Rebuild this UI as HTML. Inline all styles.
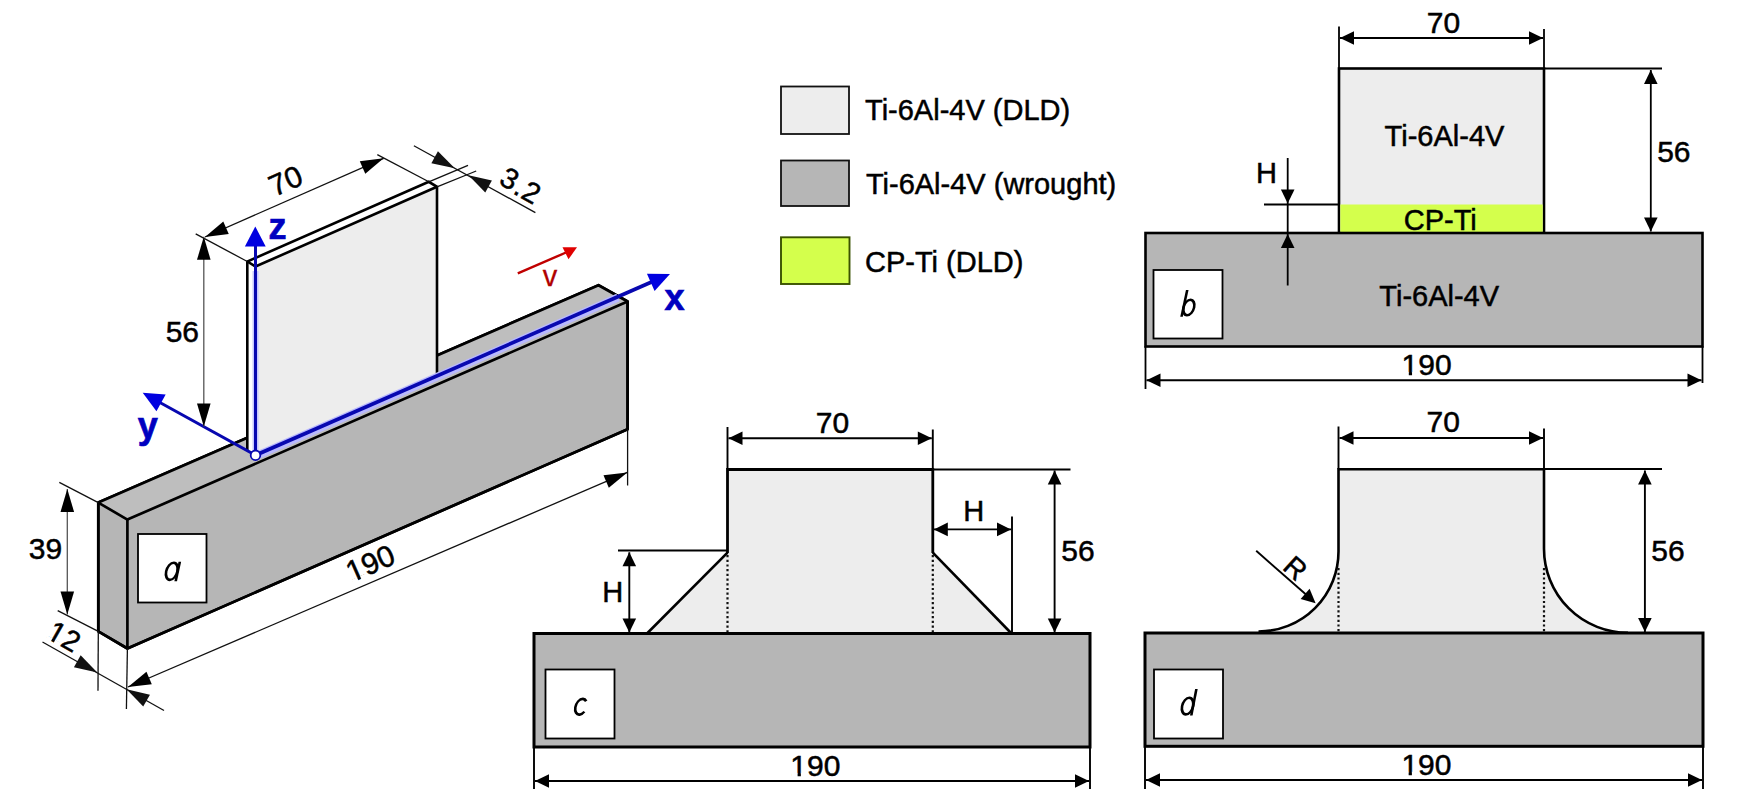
<!DOCTYPE html>
<html><head><meta charset="utf-8"><style>html,body{margin:0;padding:0;background:#fff;}svg{display:block;}</style></head>
<body><svg width="1741" height="794" viewBox="0 0 1741 794">
<rect width="1741" height="794" fill="#fff"/>
<rect x="1339" y="68.5" width="205" height="164.5" fill="#ededed" stroke="#000" stroke-width="2.6"/>
<rect x="1340.3" y="204.5" width="202.4" height="28.5" fill="#d4ff4c"/>
<rect x="1145.5" y="233" width="557.0" height="113.5" fill="#b6b6b6" stroke="#000" stroke-width="2.6"/>
<line x1="1339.00" y1="26.50" x2="1339.00" y2="68.50" stroke="#000" stroke-width="1.8" />
<line x1="1544.00" y1="29.00" x2="1544.00" y2="68.50" stroke="#000" stroke-width="1.8" />
<line x1="1340.00" y1="38.00" x2="1543.00" y2="38.00" stroke="#000" stroke-width="1.8" /><path d="M1340.00,38.00 L1354.00,31.20 L1354.00,44.80 Z" fill="#000"/><path d="M1543.00,38.00 L1529.00,44.80 L1529.00,31.20 Z" fill="#000"/>
<g transform="translate(1443.85,22.50)"><text x="-17.00" y="10.00" font-family="Liberation Sans, sans-serif" font-size="30" font-weight="normal" font-style="normal" fill="#000" stroke="#000" stroke-width="0.5">70</text></g>
<line x1="1544.00" y1="68.50" x2="1662.00" y2="68.50" stroke="#000" stroke-width="1.8" />
<line x1="1650.80" y1="70.00" x2="1650.80" y2="231.50" stroke="#000" stroke-width="1.8" /><path d="M1650.80,70.00 L1657.60,84.00 L1644.00,84.00 Z" fill="#000"/><path d="M1650.80,231.50 L1644.00,217.50 L1657.60,217.50 Z" fill="#000"/>
<g transform="translate(1673.65,152.15)"><text x="-16.50" y="10.00" font-family="Liberation Sans, sans-serif" font-size="30" font-weight="normal" font-style="normal" fill="#000" stroke="#000" stroke-width="0.5">56</text></g>
<line x1="1264.00" y1="204.50" x2="1339.00" y2="204.50" stroke="#000" stroke-width="1.8" />
<line x1="1287.70" y1="158.00" x2="1287.70" y2="285.50" stroke="#000" stroke-width="1.8" />
<path d="M1287.70,203.50 L1280.90,189.50 L1294.50,189.50 Z" fill="#000"/>
<path d="M1287.70,234.00 L1294.50,248.00 L1280.90,248.00 Z" fill="#000"/>
<g transform="translate(1266.45,173.45)"><text x="-10.50" y="10.00" font-family="Liberation Sans, sans-serif" font-size="29" font-weight="normal" font-style="normal" fill="#000" stroke="#000" stroke-width="0.5">H</text></g>
<line x1="1145.50" y1="346.00" x2="1145.50" y2="389.00" stroke="#000" stroke-width="1.8" />
<line x1="1702.50" y1="346.00" x2="1702.50" y2="383.00" stroke="#000" stroke-width="1.8" />
<line x1="1146.50" y1="380.30" x2="1701.50" y2="380.30" stroke="#000" stroke-width="1.9" /><path d="M1146.50,380.30 L1160.50,373.50 L1160.50,387.10 Z" fill="#000"/><path d="M1701.50,380.30 L1687.50,387.10 L1687.50,373.50 Z" fill="#000"/>
<g transform="translate(1427.05,364.70)"><text x="-25.50" y="10.00" font-family="Liberation Sans, sans-serif" font-size="30" font-weight="normal" font-style="normal" fill="#000" stroke="#000" stroke-width="0.5">190</text><rect x="-24.41" y="7.21" width="6.16" height="4.19" fill="#fff"/><rect x="-15.00" y="7.21" width="6.22" height="4.19" fill="#fff"/></g>
<g transform="translate(1444.60,135.10)"><text x="-60.00" y="11.00" font-family="Liberation Sans, sans-serif" font-size="29" font-weight="normal" font-style="normal" fill="#000" stroke="#000" stroke-width="0.5">Ti-6Al-4V</text></g>
<g transform="translate(1439.70,218.65)"><text x="-36.00" y="11.00" font-family="Liberation Sans, sans-serif" font-size="29" font-weight="normal" font-style="normal" fill="#000" stroke="#000" stroke-width="0.5">CP-Ti</text></g>
<g transform="translate(1439.30,294.80)"><text x="-60.00" y="11.00" font-family="Liberation Sans, sans-serif" font-size="29" font-weight="normal" font-style="normal" fill="#000" stroke="#000" stroke-width="0.5">Ti-6Al-4V</text></g>
<rect x="1153.5" y="270" width="69" height="68.5" fill="#fff" stroke="#000" stroke-width="1.8"/>
<g transform="translate(1188.8,307.5) skewX(-12)" fill="none" stroke="#000" stroke-width="2.6" stroke-linecap="butt"><ellipse cx="0" cy="0" rx="5.3" ry="7.7"/><line x1="-5.3" y1="-17.6" x2="-5.3" y2="9.2"/></g>
<path d="M727.5,552.7 L647,633.5 L727.5,633.5 Z" fill="#ededed"/>
<path d="M932.8,552.7 L1011.5,633.5 L932.8,633.5 Z" fill="#ededed"/>
<rect x="727.5" y="469.5" width="205.29999999999995" height="164.0" fill="#ededed"/>
<path d="M727.5,553 L727.5,469.5 L932.8,469.5 L932.8,553" fill="none" stroke="#000" stroke-width="2.8"/>
<line x1="727.50" y1="552.70" x2="647.00" y2="633.50" stroke="#000" stroke-width="2.6" />
<line x1="932.80" y1="552.70" x2="1011.50" y2="633.50" stroke="#000" stroke-width="2.6" />
<line x1="727.50" y1="555.00" x2="727.50" y2="632.50" stroke="#111" stroke-width="2.2" stroke-dasharray="2.2,2.5"/>
<line x1="932.80" y1="555.00" x2="932.80" y2="632.50" stroke="#111" stroke-width="2.2" stroke-dasharray="2.2,2.5"/>
<rect x="534" y="633.5" width="556" height="113.5" fill="#b6b6b6" stroke="#000" stroke-width="3"/>
<line x1="727.50" y1="427.00" x2="727.50" y2="469.50" stroke="#000" stroke-width="1.9" />
<line x1="932.80" y1="429.50" x2="932.80" y2="469.50" stroke="#000" stroke-width="1.9" />
<line x1="728.50" y1="438.30" x2="931.80" y2="438.30" stroke="#000" stroke-width="1.9" /><path d="M728.50,438.30 L742.50,431.50 L742.50,445.10 Z" fill="#000"/><path d="M931.80,438.30 L917.80,445.10 L917.80,431.50 Z" fill="#000"/>
<g transform="translate(832.75,423.00)"><text x="-17.00" y="10.00" font-family="Liberation Sans, sans-serif" font-size="30" font-weight="normal" font-style="normal" fill="#000" stroke="#000" stroke-width="0.5">70</text></g>
<line x1="932.80" y1="469.50" x2="1070.50" y2="469.50" stroke="#000" stroke-width="1.9" />
<line x1="1054.60" y1="470.50" x2="1054.60" y2="632.50" stroke="#000" stroke-width="1.9" /><path d="M1054.60,470.50 L1061.40,484.50 L1047.80,484.50 Z" fill="#000"/><path d="M1054.60,632.50 L1047.80,618.50 L1061.40,618.50 Z" fill="#000"/>
<g transform="translate(1077.80,550.80)"><text x="-16.50" y="10.00" font-family="Liberation Sans, sans-serif" font-size="30" font-weight="normal" font-style="normal" fill="#000" stroke="#000" stroke-width="0.5">56</text></g>
<line x1="618.00" y1="550.50" x2="727.50" y2="550.50" stroke="#000" stroke-width="1.9" />
<line x1="629.30" y1="552.30" x2="629.30" y2="632.50" stroke="#000" stroke-width="1.9" /><path d="M629.30,552.30 L636.10,566.30 L622.50,566.30 Z" fill="#000"/><path d="M629.30,632.50 L622.50,618.50 L636.10,618.50 Z" fill="#000"/>
<g transform="translate(612.85,592.45)"><text x="-10.50" y="10.00" font-family="Liberation Sans, sans-serif" font-size="29" font-weight="normal" font-style="normal" fill="#000" stroke="#000" stroke-width="0.5">H</text></g>
<line x1="1012.00" y1="516.50" x2="1012.00" y2="633.50" stroke="#000" stroke-width="1.9" />
<line x1="933.80" y1="529.40" x2="1011.00" y2="529.40" stroke="#000" stroke-width="1.9" /><path d="M933.80,529.40 L947.80,522.60 L947.80,536.20 Z" fill="#000"/><path d="M1011.00,529.40 L997.00,536.20 L997.00,522.60 Z" fill="#000"/>
<g transform="translate(973.75,511.35)"><text x="-10.50" y="10.00" font-family="Liberation Sans, sans-serif" font-size="29" font-weight="normal" font-style="normal" fill="#000" stroke="#000" stroke-width="0.5">H</text></g>
<line x1="534.00" y1="747.00" x2="534.00" y2="789.00" stroke="#000" stroke-width="1.9" />
<line x1="1090.00" y1="747.00" x2="1090.00" y2="789.00" stroke="#000" stroke-width="1.9" />
<line x1="535.00" y1="781.00" x2="1089.00" y2="781.00" stroke="#000" stroke-width="2" /><path d="M535.00,781.00 L549.00,774.20 L549.00,787.80 Z" fill="#000"/><path d="M1089.00,781.00 L1075.00,787.80 L1075.00,774.20 Z" fill="#000"/>
<g transform="translate(815.85,765.70)"><text x="-25.50" y="10.00" font-family="Liberation Sans, sans-serif" font-size="30" font-weight="normal" font-style="normal" fill="#000" stroke="#000" stroke-width="0.5">190</text><rect x="-24.41" y="7.21" width="6.16" height="4.19" fill="#fff"/><rect x="-15.00" y="7.21" width="6.22" height="4.19" fill="#fff"/></g>
<rect x="545.5" y="669.5" width="69" height="69" fill="#fff" stroke="#000" stroke-width="1.8"/>
<g transform="translate(581,706.8) skewX(-12)" fill="none" stroke="#000" stroke-width="2.6" stroke-linecap="butt"><path d="M4.0,-5.6 A5.6,7.9 0 1 0 4.4,4.9"/></g>
<path d="M1338.5,551.5 A80,80 0 0 1 1258.5,631.5 L1258.5,633 L1338.5,633 Z" fill="#ededed"/>
<path d="M1544,548.8 A84,84 0 0 0 1628,632.8 L1628,633 L1544,633 Z" fill="#ededed"/>
<rect x="1338.5" y="469.3" width="205.5" height="163.7" fill="#ededed"/>
<path d="M1258.5,631.5 A80,80 0 0 0 1338.5,551.5 L1338.5,469.3 L1544,469.3 L1544,548.8 A84,84 0 0 0 1628,632.8" fill="none" stroke="#000" stroke-width="2.6"/>
<line x1="1338.50" y1="568.00" x2="1338.50" y2="632.00" stroke="#111" stroke-width="2.2" stroke-dasharray="2.2,2.5"/>
<line x1="1544.00" y1="568.00" x2="1544.00" y2="632.00" stroke="#111" stroke-width="2.2" stroke-dasharray="2.2,2.5"/>
<rect x="1145" y="633" width="558" height="113.29999999999995" fill="#b6b6b6" stroke="#000" stroke-width="3"/>
<line x1="1338.50" y1="426.50" x2="1338.50" y2="469.30" stroke="#000" stroke-width="1.9" />
<line x1="1544.00" y1="428.50" x2="1544.00" y2="469.30" stroke="#000" stroke-width="1.9" />
<line x1="1339.50" y1="438.00" x2="1543.00" y2="438.00" stroke="#000" stroke-width="1.9" /><path d="M1339.50,438.00 L1353.50,431.20 L1353.50,444.80 Z" fill="#000"/><path d="M1543.00,438.00 L1529.00,444.80 L1529.00,431.20 Z" fill="#000"/>
<g transform="translate(1443.55,422.15)"><text x="-17.00" y="10.00" font-family="Liberation Sans, sans-serif" font-size="30" font-weight="normal" font-style="normal" fill="#000" stroke="#000" stroke-width="0.5">70</text></g>
<line x1="1544.00" y1="469.00" x2="1662.00" y2="469.00" stroke="#000" stroke-width="1.9" />
<line x1="1644.90" y1="470.50" x2="1644.90" y2="632.00" stroke="#000" stroke-width="1.9" /><path d="M1644.90,470.50 L1651.70,484.50 L1638.10,484.50 Z" fill="#000"/><path d="M1644.90,632.00 L1638.10,618.00 L1651.70,618.00 Z" fill="#000"/>
<g transform="translate(1667.80,550.80)"><text x="-16.50" y="10.00" font-family="Liberation Sans, sans-serif" font-size="30" font-weight="normal" font-style="normal" fill="#000" stroke="#000" stroke-width="0.5">56</text></g>
<line x1="1256.20" y1="550.80" x2="1306.00" y2="594.50" stroke="#000" stroke-width="1.9" />
<path d="M1315.60,603.20 L1300.60,599.04 L1309.60,588.84 Z" fill="#000"/>
<g transform="translate(1295.55,568.55) rotate(42)"><text x="-10.50" y="9.50" font-family="Liberation Sans, sans-serif" font-size="28" font-weight="normal" font-style="normal" fill="#000" stroke="#000" stroke-width="0.5">R</text></g>
<line x1="1145.00" y1="746.30" x2="1145.00" y2="789.00" stroke="#000" stroke-width="1.9" />
<line x1="1703.00" y1="746.30" x2="1703.00" y2="789.00" stroke="#000" stroke-width="1.9" />
<line x1="1146.00" y1="780.00" x2="1702.00" y2="780.00" stroke="#000" stroke-width="2" /><path d="M1146.00,780.00 L1160.00,773.20 L1160.00,786.80 Z" fill="#000"/><path d="M1702.00,780.00 L1688.00,786.80 L1688.00,773.20 Z" fill="#000"/>
<g transform="translate(1426.90,764.60)"><text x="-25.50" y="10.00" font-family="Liberation Sans, sans-serif" font-size="30" font-weight="normal" font-style="normal" fill="#000" stroke="#000" stroke-width="0.5">190</text><rect x="-24.41" y="7.21" width="6.16" height="4.19" fill="#fff"/><rect x="-15.00" y="7.21" width="6.22" height="4.19" fill="#fff"/></g>
<rect x="1154" y="669.5" width="69" height="69" fill="#fff" stroke="#000" stroke-width="1.8"/>
<g transform="translate(1187.6,706.1) skewX(-11)" fill="none" stroke="#000" stroke-width="2.6" stroke-linecap="butt"><ellipse cx="0" cy="0" rx="5.5" ry="8.3"/><line x1="5.5" y1="-17" x2="5.5" y2="9.3"/></g>
<rect x="781" y="86.5" width="68" height="47.5" fill="#ededed" stroke="#111" stroke-width="1.8"/>
<rect x="781" y="160.5" width="68" height="45.5" fill="#b6b6b6" stroke="#111" stroke-width="1.8"/>
<rect x="781" y="237.3" width="68.5" height="46.7" fill="#d4ff4c" stroke="#3a5200" stroke-width="1.9"/>
<g transform="translate(967.00,112.20)"><text x="-102.00" y="8.00" font-family="Liberation Sans, sans-serif" font-size="29" font-weight="normal" font-style="normal" fill="#000" stroke="#000" stroke-width="0.5">Ti-6Al-4V (DLD)</text></g>
<g transform="translate(990.40,185.60)"><text x="-124.50" y="8.00" font-family="Liberation Sans, sans-serif" font-size="29" font-weight="normal" font-style="normal" fill="#000" stroke="#000" stroke-width="0.5">Ti-6Al-4V (wrought)</text></g>
<g transform="translate(944.00,263.50)"><text x="-79.00" y="8.00" font-family="Liberation Sans, sans-serif" font-size="29" font-weight="normal" font-style="normal" fill="#000" stroke="#000" stroke-width="0.5">CP-Ti (DLD)</text></g>
<polygon points="98.30,502.60 598.50,285.20 627.60,301.50 627.60,429.20 127.40,648.50 98.30,631.30" fill="#b6b6b6" stroke="#000" stroke-width="2.7" stroke-linejoin="round"/>
<polygon points="98.30,502.60 598.50,285.20 627.60,301.50 127.40,519.60" fill="#bebebe"/>
<polygon points="98.30,502.60 598.50,285.20 627.60,301.50 627.60,429.20 127.40,648.50 98.30,631.30" fill="none" stroke="#000" stroke-width="2.7" stroke-linejoin="round"/>
<polyline points="98.30,502.60 127.40,519.60 627.60,301.50" fill="none" stroke="#000" stroke-width="2.7" stroke-linejoin="round"/>
<line x1="127.40" y1="519.60" x2="127.40" y2="648.50" stroke="#000" stroke-width="2.7" />
<polygon points="255.50,455.30 255.50,266.50 437.00,186.80 437.00,375.60" fill="#ededed"/>
<polygon points="255.50,455.30 255.50,266.50 247.30,261.50 247.30,450.30" fill="#fff"/>
<polygon points="255.50,266.50 437.00,186.80 428.80,181.80 247.30,261.50" fill="#fff"/>
<polyline points="247.30,450.30 247.30,261.50 428.80,181.80 437.00,186.80 437.00,375.60" fill="none" stroke="#000" stroke-width="2.6"/>
<polyline points="247.30,261.50 255.50,266.50 437.00,186.80" fill="none" stroke="#000" stroke-width="2.6"/>
<line x1="255.50" y1="456.10" x2="618.00" y2="297.51" stroke="#b8b8ff" stroke-width="8" />
<line x1="255.50" y1="452.30" x2="255.50" y2="271.00" stroke="#c8c8ff" stroke-width="6" />
<line x1="255.50" y1="455.30" x2="255.50" y2="240.00" stroke="#0808b0" stroke-width="3.0" />
<path d="M255.30,226.50 L265.70,246.50 L244.90,246.50 Z" fill="#0000e0"/>
<line x1="255.50" y1="455.30" x2="655.00" y2="280.50" stroke="#0808b0" stroke-width="3.7" />
<path d="M670.00,274.00 L654.57,291.12 L646.95,273.71 Z" fill="#0000e0"/>
<line x1="255.50" y1="455.30" x2="156.70" y2="400.70" stroke="#0808b0" stroke-width="3.0" />
<path d="M142.70,392.70 L165.67,394.58 L156.45,411.20 Z" fill="#0000e0"/>
<circle cx="255.5" cy="455.3" r="4.8" fill="#fff" stroke="#0808b0" stroke-width="1.8"/>
<g transform="translate(277.40,229.20)"><text x="-9.00" y="10.00" font-family="Liberation Sans, sans-serif" font-size="36" font-weight="bold" font-style="normal" fill="#0000c0" stroke="#0000c0" stroke-width="0.7">z</text></g>
<g transform="translate(147.65,432.35)"><text x="-10.00" y="6.00" font-family="Liberation Sans, sans-serif" font-size="36" font-weight="bold" font-style="normal" fill="#0000c0" stroke="#0000c0" stroke-width="0.7">y</text></g>
<g transform="translate(674.40,299.75)"><text x="-10.00" y="10.00" font-family="Liberation Sans, sans-serif" font-size="36" font-weight="bold" font-style="normal" fill="#0000c0" stroke="#0000c0" stroke-width="0.7">x</text></g>
<line x1="517.80" y1="273.40" x2="566.00" y2="252.50" stroke="#c00000" stroke-width="2.4" />
<path d="M577,247.3 L562.5,247.3 L568.5,259.3 Z" fill="#e00000"/>
<g transform="translate(550.20,278.25)"><text x="-7.50" y="8.00" font-family="Liberation Sans, sans-serif" font-size="29" font-weight="normal" font-style="normal" fill="#b00000" stroke="#b00000" stroke-width="0.3">v</text></g>
<line x1="247.30" y1="261.50" x2="195.70" y2="233.90" stroke="#111" stroke-width="1.3" />
<line x1="428.80" y1="181.80" x2="377.30" y2="154.60" stroke="#111" stroke-width="1.3" />
<line x1="205.00" y1="237.00" x2="383.60" y2="158.30" stroke="#111" stroke-width="1.3" /><path d="M205.00,237.00 L223.31,221.50 L228.79,233.95 Z" fill="#000"/><path d="M383.60,158.30 L365.29,173.80 L359.81,161.35 Z" fill="#000"/>
<g transform="translate(286.05,181.05) rotate(-23.8)"><text x="-17.00" y="10.00" font-family="Liberation Sans, sans-serif" font-size="30" font-weight="normal" font-style="normal" fill="#000" stroke="#000" stroke-width="0.5">70</text></g>
<line x1="428.80" y1="181.80" x2="468.00" y2="165.40" stroke="#111" stroke-width="1.3" />
<line x1="437.00" y1="186.80" x2="476.20" y2="171.00" stroke="#111" stroke-width="1.3" />
<line x1="413.90" y1="145.80" x2="535.40" y2="212.60" stroke="#111" stroke-width="1.3" />
<path d="M454.80,168.30 L431.37,163.17 L437.93,151.26 Z" fill="#111"/>
<path d="M468.50,175.30 L491.90,180.56 L485.28,192.44 Z" fill="#111"/>
<g transform="translate(509.55,178.60) rotate(28.8)"><text x="-8.00" y="10.00" font-family="Liberation Sans, sans-serif" font-size="29" font-weight="normal" font-style="normal" fill="#000" stroke="#000" stroke-width="0.5">3</text></g>
<g transform="translate(516.40,193.10) rotate(28.8)"><text x="-4.00" y="2.00" font-family="Liberation Sans, sans-serif" font-size="29" font-weight="normal" font-style="normal" fill="#000" stroke="#000" stroke-width="0.5">.</text></g>
<g transform="translate(531.40,192.45) rotate(28.8)"><text x="-8.00" y="10.00" font-family="Liberation Sans, sans-serif" font-size="29" font-weight="normal" font-style="normal" fill="#000" stroke="#000" stroke-width="0.5">2</text></g>
<line x1="203.80" y1="236.80" x2="203.80" y2="426.50" stroke="#555" stroke-width="1.3" /><path d="M203.80,236.80 L210.60,259.80 L197.00,259.80 Z" fill="#000"/><path d="M203.80,426.50 L197.00,403.50 L210.60,403.50 Z" fill="#000"/>
<g transform="translate(182.15,331.70)"><text x="-16.50" y="10.00" font-family="Liberation Sans, sans-serif" font-size="30" font-weight="normal" font-style="normal" fill="#000" stroke="#000" stroke-width="0.5">56</text></g>
<line x1="98.30" y1="502.60" x2="59.30" y2="482.30" stroke="#111" stroke-width="1.3" />
<line x1="98.30" y1="631.30" x2="57.70" y2="610.60" stroke="#111" stroke-width="1.3" />
<line x1="67.30" y1="489.00" x2="67.30" y2="614.50" stroke="#555" stroke-width="1.3" /><path d="M67.30,489.00 L74.10,512.00 L60.50,512.00 Z" fill="#000"/><path d="M67.30,614.50 L60.50,591.50 L74.10,591.50 Z" fill="#000"/>
<g transform="translate(45.30,549.40)"><text x="-16.50" y="10.00" font-family="Liberation Sans, sans-serif" font-size="30" font-weight="normal" font-style="normal" fill="#000" stroke="#000" stroke-width="0.5">39</text></g>
<line x1="98.30" y1="631.30" x2="98.00" y2="690.80" stroke="#111" stroke-width="1.3" />
<line x1="127.40" y1="648.50" x2="126.40" y2="708.90" stroke="#111" stroke-width="1.3" />
<line x1="42.50" y1="642.00" x2="164.00" y2="710.50" stroke="#111" stroke-width="1.3" />
<path d="M97.30,672.60 L73.94,667.15 L80.66,655.33 Z" fill="#111"/>
<path d="M126.60,689.20 L149.95,694.67 L143.22,706.49 Z" fill="#111"/>
<g transform="translate(64.40,636.65) rotate(29.5)"><text x="-16.50" y="10.00" font-family="Liberation Sans, sans-serif" font-size="29" font-weight="normal" font-style="normal" fill="#000" stroke="#000" stroke-width="0.5">12</text><rect x="-15.49" y="7.28" width="5.98" height="4.12" fill="#fff"/><rect x="-6.34" y="7.28" width="6.06" height="4.12" fill="#fff"/></g>
<line x1="627.60" y1="429.20" x2="627.60" y2="485.50" stroke="#111" stroke-width="1.3" />
<line x1="128.00" y1="687.00" x2="627.30" y2="472.40" stroke="#111" stroke-width="1.3" /><path d="M128.00,687.00 L146.45,671.67 L151.82,684.17 Z" fill="#000"/><path d="M627.30,472.40 L608.85,487.73 L603.48,475.23 Z" fill="#000"/>
<g transform="translate(370.85,563.45) rotate(-23.6)"><text x="-25.50" y="10.00" font-family="Liberation Sans, sans-serif" font-size="30" font-weight="normal" font-style="normal" fill="#000" stroke="#000" stroke-width="0.5">190</text><rect x="-24.41" y="7.21" width="6.16" height="4.19" fill="#fff"/><rect x="-15.00" y="7.21" width="6.22" height="4.19" fill="#fff"/></g>
<rect x="138" y="534" width="68.5" height="68.5" fill="#fff" stroke="#000" stroke-width="1.8"/>
<g transform="translate(171.8,571.3) skewX(-12)" fill="none" stroke="#000" stroke-width="2.6" stroke-linecap="butt"><ellipse cx="0" cy="0" rx="5.6" ry="8.6"/><line x1="6.0" y1="-9.6" x2="6.0" y2="9.9"/></g>
</svg></body></html>
